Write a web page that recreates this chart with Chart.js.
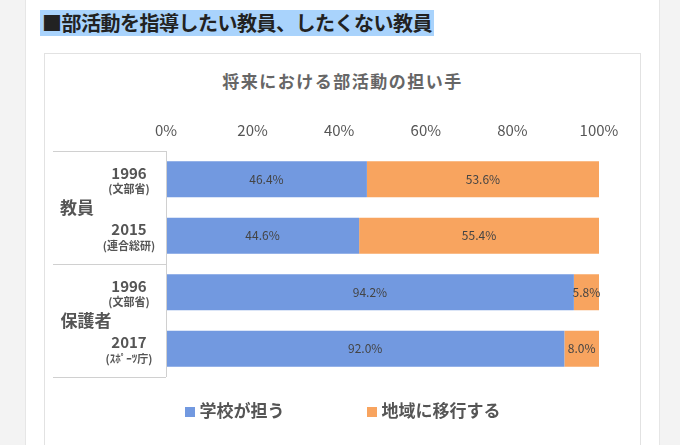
<!DOCTYPE html>
<html><head><meta charset="utf-8">
<script src="https://cdn.jsdelivr.net/npm/chart.js@4"></script>
<style>
body{margin:0;width:680px;height:445px;background:#f3f3f3;font-family:"Noto Sans CJK JP",sans-serif;overflow:hidden;position:relative}
#page{position:absolute;left:25px;top:0;width:633px;height:445px;background:#fff;border-left:1px solid #e6e6e6;border-right:1px solid #e6e6e6}
#head{position:absolute;left:40px;top:10px;height:26px;padding:0 2px;background:#a9d3fc;font-weight:bold;font-size:20px;line-height:26px;color:#222;letter-spacing:-0.5px}
#box{position:absolute;left:44px;top:53px;width:595px;height:392px;border:1px solid #e2e2e2;border-bottom:none}
#title{position:absolute;left:0;width:100%;top:14px;text-align:center;font-size:17px;font-weight:bold;color:#666;letter-spacing:1.5px}
#legend{position:absolute;left:0;width:100%;top:343px;text-align:center;font-size:17px;font-weight:bold;color:#555}
#legend span.sw{display:inline-block;width:10px;height:10px;margin:0 5px 0 0}
canvas{position:absolute;left:0;top:0}
</style></head><body>
<div id="page"></div>
<div id="head">■部活動を指導したい教員、したくない教員</div>
<div id="box">
<div id="title">将来における部活動の担い手</div>
<canvas id="c" width="595" height="392"></canvas>
<div id="legend"><span class="sw" style="background:#7299e0"></span>学校が担う<span style="display:inline-block;width:82px"></span><span class="sw" style="background:#f8a45f"></span>地域に移行する</div>
</div>
<script>
const years = ['1996', '2015', '1996', '2017'];
const sources = ['(文部省)', '(連合総研)', '(文部省)', '(ｽﾎﾟｰﾂ庁)'];
const groups = ['教員', '保護者'];
const school = [46.4, 44.6, 94.2, 92.0];
const community = [53.6, 55.4, 5.8, 8.0];
const xTicks = [0, 20, 40, 60, 80, 100];

const labelPlugin = {
  id: 'labels',
  afterDraw(chart) {
    const ctx = chart.ctx, y = chart.scales.y, area = chart.chartArea;
    ctx.save();
    ctx.strokeStyle = '#d0d0d0'; ctx.lineWidth = 1;
    const top = area.top, bot = area.bottom, mid = (top + bot) / 2;
    [top, mid, bot].forEach(v => { ctx.beginPath(); ctx.moveTo(8, v + 0.5); ctx.lineTo(area.left, v + 0.5); ctx.stroke(); });
    ctx.beginPath(); ctx.moveTo(area.left + 0.5, top); ctx.lineTo(area.left + 0.5, bot); ctx.stroke();
    ctx.fillStyle = '#555'; ctx.textAlign = 'center'; ctx.textBaseline = 'middle';
    years.forEach((yr, i) => {
      const p = y.getPixelForValue(i);
      ctx.font = 'bold 15px "Noto Sans CJK JP"';
      ctx.fillText(yr, 84, p - 6);
      ctx.font = 'bold 11px "Noto Sans CJK JP"';
      ctx.fillText(sources[i], 84, p + 10);
    });
    ctx.font = 'bold 17px "Noto Sans CJK JP"';
    ctx.fillText(groups[0], 32, (y.getPixelForValue(0) + y.getPixelForValue(1)) / 2);
    ctx.fillText(groups[1], 41, (y.getPixelForValue(2) + y.getPixelForValue(3)) / 2);
    ctx.font = '12px "Noto Sans CJK JP"'; ctx.fillStyle = '#444';
    chart.data.datasets.forEach((ds, di) => {
      chart.getDatasetMeta(di).data.forEach((bar, i) => {
        const cx = (bar.x + bar.base) / 2;
        ctx.fillText(ds.data[i].toFixed(1) + '%', cx, bar.y);
      });
    });
    ctx.restore();
  }
};

new Chart(document.getElementById('c'), {
  type: 'bar',
  data: {
    labels: years,
    datasets: [
      { label: '学校が担う', data: school, backgroundColor: '#7299e0', barPercentage: 0.64, categoryPercentage: 1 },
      { label: '地域に移行する', data: community, backgroundColor: '#f8a45f', barPercentage: 0.64, categoryPercentage: 1 }
    ]
  },
  options: {
    indexAxis: 'y',
    responsive: false,
    animation: false,
    layout: { padding: { top: 67, bottom: 69, left: 0, right: 41 } },
    plugins: { legend: { display: false }, tooltip: { enabled: false } },
    scales: {
      x: {
        position: 'top', stacked: true, min: 0, max: 100,
        afterBuildTicks: s => { s.ticks = xTicks.map(v => ({ value: v })); },
        afterFit: s => { s.height = 30; },
        grid: { display: false }, border: { display: false },
        ticks: { color: '#555', padding: 4, font: { size: 15, family: '"Noto Sans CJK JP"' }, callback: v => v + '%' }
      },
      y: {
        stacked: true,
        afterFit: s => { s.width = 121; },
        grid: { display: false }, border: { display: false },
        ticks: { display: false }
      }
    }
  },
  plugins: [labelPlugin]
});
</script>
</body></html>
